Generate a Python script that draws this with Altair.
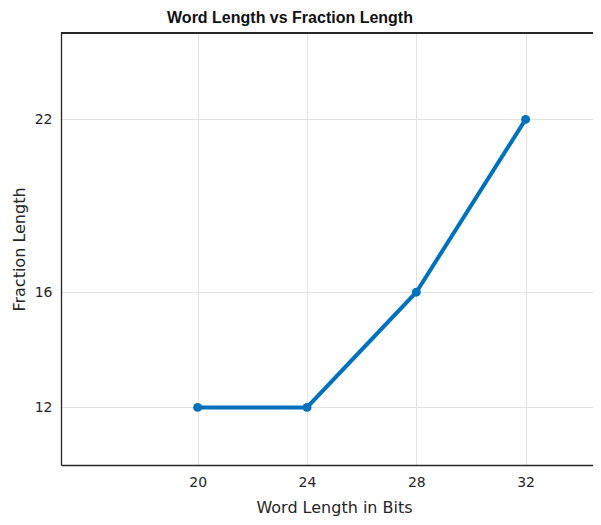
import altair as alt
import pandas as pd

word_length = [20, 24, 28, 32]
fraction_length = [12, 12, 16, 22]
x_ticks = [20, 24, 28, 32]
y_ticks = [12, 16, 22]

df = pd.DataFrame({"w": word_length, "f": fraction_length})

FONT = "DejaVu Sans"
TFONT = "Liberation Sans"
AX = "#262626"
BLUE = "#0072BD"

W = 532
H = 432
xscale = alt.Scale(domain=[15, 15 + W / 27.33], nice=False, zero=False)
yscale = alt.Scale(domain=[10, 25], nice=False, zero=False)

base = alt.Chart(df)

line = base.mark_line(color=BLUE, strokeWidth=4, clip=True).encode(
    x=alt.X("w:Q", scale=xscale,
            axis=alt.Axis(values=x_ticks, title="Word Length in Bits", grid=True,
                          gridColor="#e2e2e2", domainColor=AX, domainWidth=1.3,
                          ticks=False,
                          labelPadding=10, labelFontSize=14, labelColor=AX, labelFont=FONT,
                          titleFont=FONT, titleFontSize=16, titleFontWeight="normal",
                          titleColor=AX, titlePadding=10, titleX=273)),
    y=alt.Y("f:Q", scale=yscale,
            axis=alt.Axis(values=y_ticks, title="Fraction Length", grid=True,
                          gridColor="#e2e2e2", domainColor=AX, domainWidth=1.3,
                          ticks=False,
                          labelPadding=9, labelFontSize=14, labelColor=AX, labelFont=FONT,
                          titleFont=FONT, titleFontSize=16, titleFontWeight="normal",
                          titleColor=AX, titlePadding=7)),
)

points = base.mark_point(filled=True, color=BLUE, size=80, opacity=1, shape="circle").encode(
    x=alt.X("w:Q", scale=xscale),
    y=alt.Y("f:Q", scale=yscale),
)

top_border = alt.Chart(df).mark_rule(color=AX, strokeWidth=1.3).encode(
    x=alt.value(0), x2=alt.value(W), y=alt.value(0)
)

chart = alt.layer(line, points, top_border).properties(
    width=W,
    height=H,
    autosize=alt.AutoSizeParams(type="none"),
    padding={"left": 53, "top": 25, "right": 0, "bottom": 52},
    title=alt.TitleParams("Word Length vs Fraction Length", font=TFONT, fontSize=16,
                          fontWeight="bold", color="#111111", anchor="middle",
                          dx=-37, offset=6),
).configure_view(stroke=None).configure(background="white")

chart.save("out.html", embed_options={"renderer": "svg", "actions": False})
